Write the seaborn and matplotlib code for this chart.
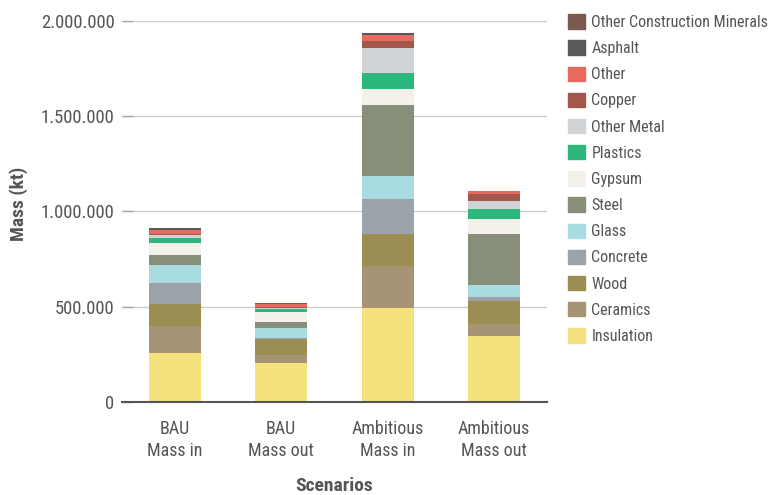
import matplotlib
matplotlib.use("Agg")
import matplotlib.pyplot as plt
import matplotlib.patches as mpatches
from matplotlib.ticker import FuncFormatter
from matplotlib import font_manager
import seaborn as sns
import numpy as np

scenarios = ["BAU\nMass in", "BAU\nMass out", "Ambitious\nMass in", "Ambitious\nMass out"]

insulation = [255000, 203000, 492000, 348000]
ceramics   = [143000, 42000, 222000, 61000]
wood       = [115000, 84000, 166000, 122000]
concrete   = [112000, 7000, 185000, 18000]
glass      = [93000, 52000, 119000, 66000]
steel      = [51000, 33000, 373000, 265000]
gypsum     = [68000, 53000, 84000, 80000]
plastics   = [24000, 14000, 84000, 54000]
other_metal = [14000, 7000, 134000, 42000]
copper     = [9000, 2000, 35000, 34000]
other      = [17000, 19000, 31000, 17000]
asphalt    = [10000, 1000, 10000, 2000]
other_cm   = [2000, 1000, 2000, 1000]

colors = {
    "Insulation": "#F5E27E",
    "Ceramics": "#A69474",
    "Wood": "#9C8D52",
    "Concrete": "#9BA3A8",
    "Glass": "#A8DCE1",
    "Steel": "#878E79",
    "Gypsum": "#F4F1EA",
    "Plastics": "#2DB77C",
    "Other Metal": "#D0D4D7",
    "Copper": "#A3574A",
    "Other": "#E86A5E",
    "Asphalt": "#58595B",
    "Other Construction Minerals": "#7A5A4E",
}

stack = [("Insulation", insulation), ("Ceramics", ceramics), ("Wood", wood),
         ("Concrete", concrete), ("Glass", glass), ("Steel", steel),
         ("Gypsum", gypsum), ("Plastics", plastics), ("Other Metal", other_metal),
         ("Copper", copper), ("Other", other), ("Asphalt", asphalt),
         ("Other Construction Minerals", other_cm)]

sns.set_theme(style="white")

fonts = font_manager.fontManager.ttflist
cond = [f for f in fonts if "Roboto" in f.name and ("Condensed" in f.name or f.stretch == "condensed")]
if cond:
    fam = cond[0].name
    plt.rcParams["font.stretch"] = "condensed"
    sz_y, sz_x, sz_leg, sz_title = 13.4, 13, 11.5, 14
else:
    fam = "Roboto"
    sz_y, sz_x, sz_leg, sz_title = 11.5, 12, 10.3, 12
plt.rcParams["font.family"] = [fam, "DejaVu Sans"]

fig = plt.figure(figsize=(7.72, 4.95), dpi=100)
ax = fig.add_axes([0.1574, 0.1879, 0.709 - 0.1574, 0.9576 - 0.1879])

bottom = np.zeros(len(scenarios))
for name, vals in stack:
    sns.barplot(x=scenarios, y=vals, bottom=bottom, color=colors[name],
                width=0.49, ax=ax, saturation=1, linewidth=0, errorbar=None)
    bottom = bottom + np.array(vals)

ax.set_ylim(0, 2000000)
ax.set_xlim(-0.5, 3.5)
ax.set_yticks([0, 500000, 1000000, 1500000, 2000000])
ax.yaxis.set_major_formatter(FuncFormatter(lambda v, p: f"{int(v):,}".replace(",", ".")))
ax.grid(axis="y", color="#CCCCCC", linewidth=1)
ax.set_axisbelow(True)
for s in ["top", "right", "left"]:
    ax.spines[s].set_visible(False)
ax.spines["bottom"].set_color("#555555")
ax.spines["bottom"].set_linewidth(1.5)
ax.tick_params(axis="y", direction="in", length=8, width=1, color="#AAAAAA",
               labelsize=sz_y, labelcolor="#555555", pad=5, left=True)
ax.tick_params(axis="x", length=0, labelsize=sz_x, labelcolor="#555555", pad=13)
for t in ax.get_xticklabels():
    t.set_linespacing(1.3)
ax.set_xlabel("Scenarios", fontsize=sz_title, fontweight="bold", color="#555555", labelpad=12)
ax.set_ylabel("Mass (kt)", fontsize=sz_title, fontweight="bold", color="#555555")
ax.yaxis.set_label_coords(-0.219, 0.52)

handles = [mpatches.Patch(color=colors[n], label=n) for n, _ in reversed(stack)]
leg = fig.legend(handles=handles, loc="upper left", bbox_to_anchor=(0.727, 0.984),
                 frameon=False, fontsize=sz_leg, handlelength=1.08, handleheight=1.0,
                 labelspacing=0.66, handletextpad=0.4, borderaxespad=0)
for t in leg.get_texts():
    t.set_color("#555555")

fig.savefig("out.png", dpi=100)
